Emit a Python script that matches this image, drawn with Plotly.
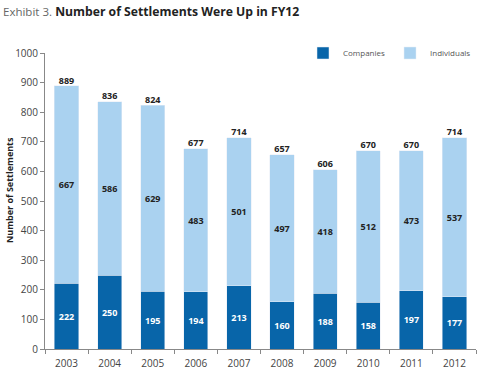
import plotly.graph_objects as go

years = ["2003", "2004", "2005", "2006", "2007", "2008", "2009", "2010", "2011", "2012"]
companies = [222, 250, 195, 194, 213, 160, 188, 158, 197, 177]
individuals = [667, 586, 629, 483, 501, 497, 418, 512, 473, 537]
totals = [c + i for c, i in zip(companies, individuals)]

DARK = "#0865A9"
LIGHT = "#AAD2F0"
FONT = "Open Sans"

fig = go.Figure()
fig.add_trace(go.Bar(
    x=years, y=companies, name="Companies", marker_color=DARK,
    text=companies, textposition="inside", insidetextanchor="middle",
    textfont=dict(color="white", size=9, family=FONT, weight="bold"),
    constraintext="none", hoverinfo="skip",
))
fig.add_trace(go.Bar(
    x=years, y=individuals, name="Individuals", marker_color=LIGHT,
    text=individuals, textposition="inside", insidetextanchor="middle",
    textfont=dict(color="#222222", size=9, family=FONT, weight="bold"),
    constraintext="none", hoverinfo="skip",
))
fig.add_trace(go.Scatter(
    x=years, y=totals, mode="text", text=totals, textposition="top center",
    textfont=dict(color="#222222", size=9, family=FONT, weight="bold"),
    showlegend=False, hoverinfo="skip",
))

fig.update_layout(
    width=481, height=373,
    margin=dict(l=45, r=5, t=53, b=24),
    paper_bgcolor="white", plot_bgcolor="white",
    barmode="stack", bargap=0.44,
    font=dict(family=FONT, size=10, color="#444444"),
    showlegend=True,
    legend=dict(orientation="h", x=1.0, xanchor="right", y=1.0, yanchor="middle",
                traceorder="normal",
                font=dict(size=8, color="#555555"), itemwidth=30,
                bgcolor="rgba(0,0,0,0)"),
    xaxis=dict(type="category", showline=True, linecolor="#888888", linewidth=1,
               ticks="outside", tickson="boundaries", ticklen=4, tickcolor="#888888",
               ticklabelstandoff=5, automargin=False,
               tickfont=dict(size=10, color="#444444"), showgrid=False),
    yaxis=dict(range=[0, 1000], dtick=100, showline=True, linecolor="#888888",
               linewidth=1, ticks="outside", ticklen=4, tickcolor="#888888",
               showgrid=False, zeroline=False, automargin=False,
               tickfont=dict(size=10, color="#444444")),
    annotations=[
        dict(
            xref="paper", yref="paper", x=-44/431, y=1 + 42/296, xanchor="left", yanchor="middle",
            showarrow=False,
            text="<span style='color:#666666;font-size:11.5px'>Exhibit 3.</span> <b style='font-size:12.2px'>Number of Settlements Were Up in FY12</b>",
            font=dict(family=FONT, size=12, color="#222222"),
        ),
        dict(
            xref="paper", yref="paper", x=-36/431, y=(349 - 190) / 296,
            xanchor="center", yanchor="middle", textangle=-90, showarrow=False,
            text="<b>Number of Settlements</b>",
            font=dict(family=FONT, size=9, color="#222222"),
        ),
    ],
)

fig.write_html("out.html", config={"displayModeBar": False},
               post_script="document.body.style.margin='0';")
